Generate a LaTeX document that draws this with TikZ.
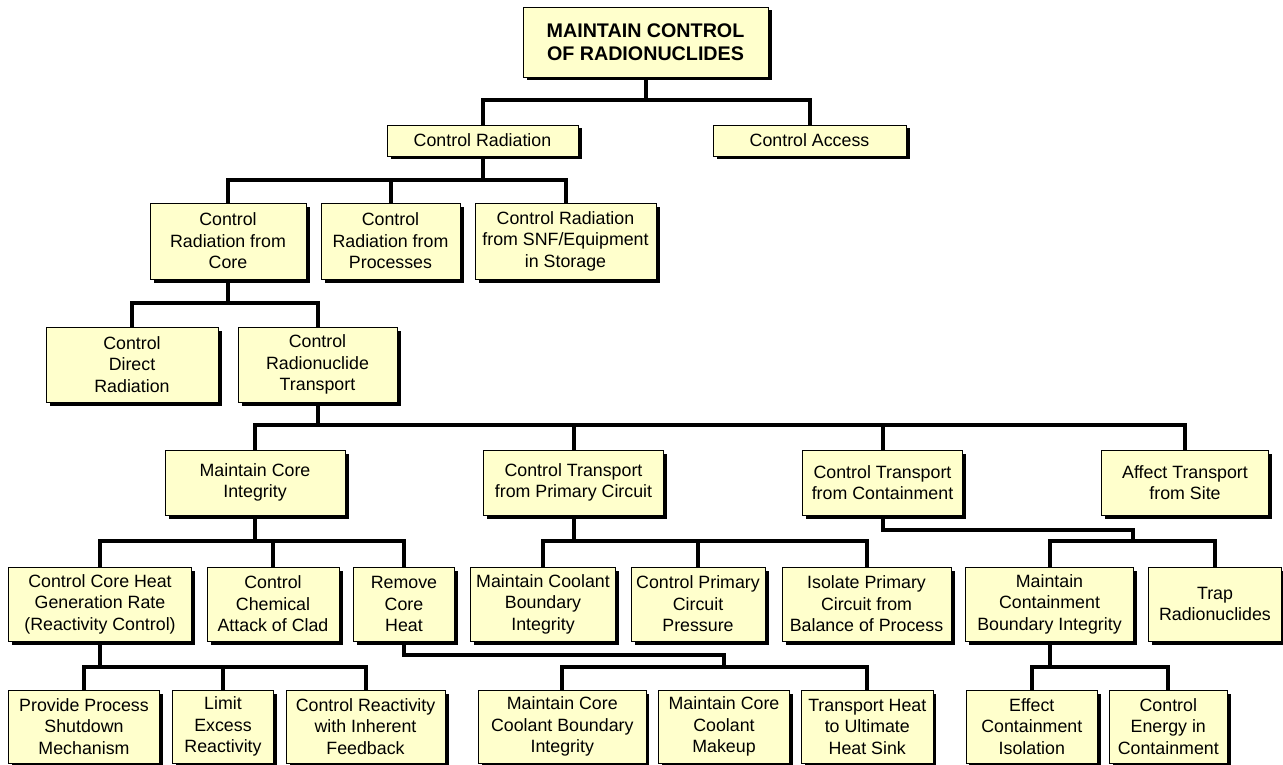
\documentclass[tikz,border=0pt]{standalone}
\usepackage{fontspec}
\setmainfont{Liberation Sans}
\usetikzlibrary{shadows}
\definecolor{boxfill}{HTML}{FFFFCC}
\begin{document}
\begin{tikzpicture}[x=1pt,y=-1pt,
  box/.style={draw=black, line width=0.8pt, fill=boxfill, inner sep=0pt, align=center,
    font=\fontsize{17.8}{21.5}\selectfont,
    drop shadow={shadow xshift=3.5pt, shadow yshift=-3.5pt, fill=black, opacity=1}},
  conn/.style={line width=4pt, black, line join=miter}]
\useasboundingbox (0,0) rectangle (1283,765);

% level 0
\node[box, minimum width=245pt, minimum height=70pt, font=\bfseries\fontsize{19.7}{22.7}\selectfont] (top) at (645.5,42) {MAINTAIN CONTROL\\OF RADIONUCLIDES};
% level 1
\node[box, minimum width=191pt, minimum height=31pt] (crad) at (482.5,140.5) {Control Radiation};
\node[box, minimum width=193pt, minimum height=31pt] (cacc) at (809.5,140.5) {Control Access};
% level 2
\node[box, minimum width=156pt, minimum height=76pt] (crc) at (228,241) {Control\\Radiation from\\Core};
\node[box, minimum width=139pt, minimum height=76pt] (crp) at (390.5,241) {Control\\Radiation from\\Processes};
\node[box, minimum width=181pt, minimum height=76pt] (crs) at (565.5,241) {Control Radiation\\from SNF/Equipment\\in Storage};
% level 3
\node[box, minimum width=172pt, minimum height=75pt] (cdr) at (132,364.5) {Control\\Direct\\Radiation};
\node[box, minimum width=159pt, minimum height=75pt] (crt) at (317.5,364.5) {Control\\Radionuclide\\Transport};
% level 4
\node[box, minimum width=180pt, minimum height=65pt] (mci) at (255,482.5) {Maintain Core\\Integrity};
\node[box, minimum width=180pt, minimum height=65pt] (ctp) at (573.5,482.5) {Control Transport\\from Primary Circuit};
\node[box, minimum width=160pt, minimum height=65pt] (ctc) at (882.5,482.5) {Control Transport\\from Containment};
\node[box, minimum width=166.5pt, minimum height=65pt] (ats) at (1185,482.5) {Affect Transport\\from Site};
% level 5
\node[box, minimum width=183.5pt, minimum height=74pt] (cch) at (100,604) {Control Core Heat\\Generation Rate\\(Reactivity Control)};
\node[box, minimum width=132pt, minimum height=74pt] (cca) at (273,604) {Control\\Chemical\\Attack of Clad};
\node[box, minimum width=101.5pt, minimum height=74pt] (rch) at (404,604) {Remove\\Core\\Heat};
\node[box, minimum width=145.5pt, minimum height=74pt] (mcb) at (543,604) {Maintain Coolant\\Boundary\\Integrity};
\node[box, minimum width=134pt, minimum height=74pt] (cpp) at (698,604) {Control Primary\\Circuit\\Pressure};
\node[box, minimum width=169pt, minimum height=74pt] (ipc) at (866.5,604) {Isolate Primary\\Circuit from\\Balance of Process};
\node[box, minimum width=167.5pt, minimum height=74pt] (mcbi) at (1049.5,604) {Maintain\\Containment\\Boundary Integrity};
\node[box, minimum width=133pt, minimum height=74pt] (trap) at (1215,604) {Trap\\Radionuclides};
% level 6
\node[box, minimum width=151pt, minimum height=73pt] (pps) at (84,726.5) {Provide Process\\Shutdown\\Mechanism};
\node[box, minimum width=100.6pt, minimum height=73pt] (ler) at (223,726.5) {Limit\\Excess\\Reactivity};
\node[box, minimum width=159pt, minimum height=73pt] (cri) at (365.5,726.5) {Control Reactivity\\with Inherent\\Feedback};
\node[box, minimum width=167.3pt, minimum height=73pt] (mccb) at (562.3,726.5) {Maintain Core\\Coolant Boundary\\Integrity};
\node[box, minimum width=131.3pt, minimum height=73pt] (mccm) at (724,726.5) {Maintain Core\\Coolant\\Makeup};
\node[box, minimum width=131.3pt, minimum height=73pt] (thu) at (867.3,726.5) {Transport Heat\\to Ultimate\\Heat Sink};
\node[box, minimum width=131.7pt, minimum height=73pt] (eci) at (1031.8,726.5) {Effect\\Containment\\Isolation};
\node[box, minimum width=118pt, minimum height=73pt] (cec) at (1168.3,726.5) {Control\\Energy in\\Containment};

% bus coordinates
\coordinate (b0) at (0,100);
\coordinate (b1) at (0,180);
\coordinate (b2) at (0,303);
\coordinate (b3) at (0,425);
\coordinate (b4) at (0,541);
\coordinate (b5) at (0,666.5);
\coordinate (j1) at (1132.5,529.5);
\coordinate (j2) at (724,655);

% connectors
\draw[conn] (top.south) -- (top.south |- b0);
\draw[conn] (crad.north) |- (cacc.north |- b0) -- (cacc.north);

\draw[conn] (crad.south) -- (crad.south |- b1);
\draw[conn] (crc.north) |- (crs.north |- b1) -- (crs.north);
\draw[conn] (crp.north) -- (crp.north |- b1);

\draw[conn] (crc.south) -- (crc.south |- b2);
\draw[conn] (cdr.north) |- (crt.north |- b2) -- (crt.north);

\draw[conn] (crt.south) -- (crt.south |- b3);
\draw[conn] (mci.north) |- (ats.north |- b3) -- (ats.north);
\draw[conn] (ctp.north) -- (ctp.north |- b3);
\draw[conn] (ctc.north) -- (ctc.north |- b3);

\draw[conn] (mci.south) -- (mci.south |- b4);
\draw[conn] (cch.north) |- (rch.north |- b4) -- (rch.north);
\draw[conn] (cca.north) -- (cca.north |- b4);

\draw[conn] (ctp.south) -- (ctp.south |- b4);
\draw[conn] (mcb.north) |- (ipc.north |- b4) -- (ipc.north);
\draw[conn] (cpp.north) -- (cpp.north |- b4);

\draw[conn] (ctc.south) |- (j1) -- (j1 |- b4);
\draw[conn] (mcbi.north) |- (trap.north |- b4) -- (trap.north);

\draw[conn] (cch.south) -- (cch.south |- b5);
\draw[conn] (pps.north) |- (cri.north |- b5) -- (cri.north);
\draw[conn] (ler.north) -- (ler.north |- b5);

\draw[conn] (rch.south) |- (j2) -- (j2 |- b5);
\draw[conn] (mccb.north) |- (thu.north |- b5) -- (thu.north);

\draw[conn] (mcbi.south) -- (mcbi.south |- b5);
\draw[conn] (eci.north) |- (cec.north |- b5) -- (cec.north);
\end{tikzpicture}
\end{document}
